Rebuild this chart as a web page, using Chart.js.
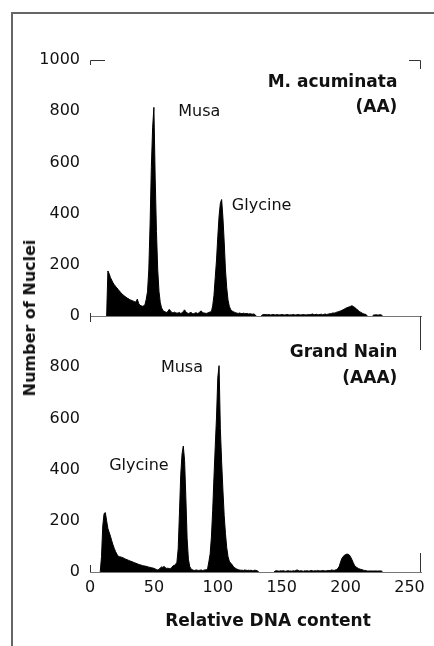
<!DOCTYPE html>
<html>
<head>
<meta charset="utf-8">
<script src="https://cdn.jsdelivr.net/npm/chart.js@4.4.1/dist/chart.umd.min.js"></script>
<style>
    body { margin: 0; background: #fff; }
    #wrap { position: relative; width: 434px; height: 646px; overflow: hidden; }
    #wrap canvas { position: absolute; left: 0; top: 0; }
    #frame { position: absolute; left: 11px; top: 12px; width: 440px; height: 660px;
             border-left: 2px solid #666; border-top: 2px solid #666; }
    .axis-title { position: absolute; font-family: 'DejaVu Sans', sans-serif; font-weight: bold;
                  color: #111; white-space: nowrap; line-height: 20px; }
    #xTitle { left: 268px; top: 610px; font-size: 17px; transform: translateX(-50%); }
    #yTitle { left: 30px; top: 318px; font-size: 16px; transform: translate(-50%, -50%) rotate(-90deg); }
</style>
</head>
<body>
<div id="wrap">
    <div id="frame"></div>
    <canvas id="topChart" width="434" height="646"></canvas>
    <canvas id="bottomChart" width="434" height="646"></canvas>
    <div class="axis-title" id="xTitle">Relative DNA content</div>
    <div class="axis-title" id="yTitle">Number of Nuclei</div>
</div>

<script>
// Flow cytometry histograms, one count per channel starting at channel 0
const musaAA = [
    0, 0, 0, 0, 0, 0, 0, 0, 0, 0,
    0, 0, 0, 0, 176, 165, 150, 140, 130, 122,
    116, 110, 104, 98, 92, 86, 82, 78, 74, 70,
    68, 64, 62, 60, 58, 56, 54, 66, 50, 42,
    40, 38, 40, 44, 65, 95, 180, 355, 580, 735,
    815, 540, 330, 180, 95, 52, 32, 22, 18, 16,
    14, 18, 26, 20, 14, 12, 15, 13, 11, 12,
    14, 10, 12, 18, 24, 16, 12, 10, 12, 14,
    10, 9, 11, 13, 10, 12, 16, 20, 14, 12,
    11, 10, 12, 14, 16, 17, 40, 80, 150, 219,
    310, 390, 440, 455, 385, 290, 180, 110, 62, 38,
    26, 20, 17, 15, 13, 11, 10, 12, 10, 9,
    11, 10, 9, 10, 8, 9, 8, 7, 8, 6,
    0, 0, 0, 0, 0, 5, 6, 5, 6, 5,
    6, 4, 5, 6, 5, 4, 6, 5, 4, 5,
    6, 5, 4, 5, 6, 5, 4, 5, 4, 6,
    5, 4, 5, 6, 5, 4, 5, 6, 5, 4,
    5, 6, 5, 6, 8, 6, 5, 7, 6, 5,
    6, 7, 5, 6, 8, 6, 7, 8, 9, 10,
    12, 11, 13, 15, 16, 18, 20, 22, 24, 27,
    30, 32, 34, 36, 38, 40, 37, 34, 30, 25,
    21, 17, 14, 11, 9, 7, 6, 0, 0, 0,
    0, 0, 4, 4, 5, 4, 4, 5, 4, 0
];

const grandNainAAA = [
    0, 0, 0, 0, 0, 0, 0, 0, 0, 60,
    180, 228, 232, 200, 170, 155, 140, 122, 106, 92,
    80, 70, 62, 60, 59, 57, 55, 53, 50, 48,
    46, 44, 42, 40, 38, 36, 34, 32, 30, 28,
    27, 25, 24, 23, 22, 21, 19, 18, 17, 16,
    14, 12, 10, 8, 10, 16, 20, 18, 22, 17,
    14, 15, 13, 14, 18, 24, 26, 30, 38, 90,
    230, 380, 460, 492, 436, 290, 130, 50, 22, 12,
    9, 7, 6, 8, 7, 6, 7, 8, 6, 7,
    8, 9, 12, 40, 70, 137, 240, 370, 490, 605,
    760, 806, 560, 430, 320, 220, 150, 95, 60, 42,
    35, 30, 22, 18, 14, 11, 9, 8, 7, 7,
    6, 8, 7, 6, 7, 6, 7, 5, 6, 7,
    6, 5, 0, 0, 0, 0, 0, 0, 0, 0,
    0, 0, 0, 0, 0, 4, 5, 4, 3, 5,
    4, 5, 4, 3, 4, 5, 4, 4, 3, 5,
    4, 6, 8, 6, 4, 5, 4, 3, 5, 4,
    5, 4, 4, 6, 5, 4, 5, 4, 6, 5,
    4, 5, 6, 5, 4, 5, 6, 5, 6, 8,
    7, 6, 8, 10, 14, 22, 38, 52, 60, 65,
    68, 70, 69, 66, 58, 48, 36, 26, 20, 17,
    14, 12, 10, 9, 7, 6, 5, 4, 4, 4,
    4, 4, 4, 4, 4, 4, 4, 4, 4, 0
];

const xTicks = [0, 50, 100, 150, 200, 250];
const yTicksTop = [0, 200, 400, 600, 800, 1000];
const yTicksBottom = [0, 200, 400, 600, 800];
const xMax = 259;
const yMax = 1000;

const FONT = "'DejaVu Sans', sans-serif";
Chart.defaults.font.family = FONT;
Chart.defaults.color = '#111';

// text labels placed in data units
const notesTop = [
    { text: 'Musa', x: 69, y: 797, align: 'left', font: '16px ' + FONT },
    { text: 'Glycine', x: 111, y: 430, align: 'left', font: '16px ' + FONT },
    { text: 'M. acuminata', x: 240.5, y: 912, align: 'right', font: 'bold 17px ' + FONT },
    { text: '(AA)', x: 240.5, y: 814, align: 'right', font: 'bold 17px ' + FONT }
];
const notesBottom = [
    { text: 'Musa', x: 55.5, y: 799, align: 'left', font: '16px ' + FONT },
    { text: 'Glycine', x: 15, y: 416, align: 'left', font: '16px ' + FONT },
    { text: 'Grand Nain', x: 240.5, y: 857, align: 'right', font: 'bold 17px ' + FONT },
    { text: '(AAA)', x: 240.5, y: 756, align: 'right', font: 'bold 17px ' + FONT }
];

const notesPlugin = {
    id: 'notes',
    afterDatasetsDraw(chart, args, opts) {
        const ctx = chart.ctx;
        const x = chart.scales.x, y = chart.scales.y;
        ctx.save();
        ctx.fillStyle = '#111';
        ctx.textBaseline = 'middle';
        opts.items.forEach(n => {
            ctx.font = n.font;
            ctx.textAlign = n.align;
            ctx.fillText(n.text, x.getPixelForValue(n.x), y.getPixelForValue(n.y));
        });
        ctx.restore();
    }
};

// bits of the scanned axis frame
function topFrame(chart) {
    const ctx = chart.ctx, a = chart.chartArea;
    ctx.save();
    ctx.strokeStyle = '#333';
    ctx.lineWidth = 1;
    ctx.beginPath();
    ctx.moveTo(a.left + 0.5, a.top + 5);
    ctx.lineTo(a.left + 0.5, a.top + 0.5);
    ctx.lineTo(a.left + 15, a.top + 0.5);
    ctx.moveTo(a.right - 12, a.top + 0.5);
    ctx.lineTo(a.right - 0.5, a.top + 0.5);
    ctx.lineTo(a.right - 0.5, a.top + 9);
    ctx.moveTo(a.left + 0.5, a.bottom - 3);
    ctx.lineTo(a.left + 0.5, a.bottom + 6);
    ctx.stroke();
    ctx.restore();
}

function bottomFrame(chart) {
    const ctx = chart.ctx, a = chart.chartArea;
    ctx.save();
    ctx.strokeStyle = '#333';
    ctx.lineWidth = 1;
    ctx.beginPath();
    ctx.moveTo(a.right - 0.5, a.top);
    ctx.lineTo(a.right - 0.5, a.top + 34);
    ctx.moveTo(a.right - 0.5, a.bottom - 19);
    ctx.lineTo(a.right - 0.5, a.bottom);
    ctx.moveTo(a.left + 0.5, a.bottom - 7);
    ctx.lineTo(a.left + 0.5, a.bottom);
    ctx.stroke();
    ctx.restore();
}

function makeHistogram(id, counts, opts) {
    const points = counts.map((c, i) => ({ x: i, y: c }));
    return new Chart(document.getElementById(id), {
        type: 'line',
        data: {
            datasets: [{
                data: points,
                borderColor: '#000',
                backgroundColor: '#000',
                borderWidth: 1,
                pointRadius: 0,
                fill: 'origin',
                tension: 0,
                segment: {
                    // no line where the histogram sits on zero
                    borderColor: c => (c.p0.parsed.y === 0 && c.p1.parsed.y === 0) ? 'rgba(0,0,0,0)' : '#000'
                }
            }]
        },
        options: {
            responsive: false,
            animation: false,
            layout: { padding: opts.padding },
            plugins: {
                legend: { display: false },
                tooltip: { enabled: false },
                notes: { items: opts.notes }
            },
            scales: {
                x: {
                    type: 'linear',
                    min: 0,
                    max: xMax,
                    grid: { display: false, drawTicks: false },
                    border: { display: true, color: '#777', width: 1 },
                    ticks: { display: opts.showX, padding: 6, font: { size: 16 }, color: '#111',
                             callback: v => String(v) },
                    afterBuildTicks: s => { s.ticks = xTicks.map(v => ({ value: v })); },
                    afterFit: s => { s.height = opts.xHeight; }
                },
                y: {
                    min: 0,
                    max: yMax,
                    grid: { display: false, drawTicks: false },
                    border: { display: false },
                    ticks: { padding: 10, font: { size: 16 }, color: '#111',
                             callback: v => String(v) },
                    afterBuildTicks: s => { s.ticks = opts.yTicks.map(v => ({ value: v })); },
                    afterFit: s => { s.width = 90; }
                }
            }
        },
        plugins: [notesPlugin, { id: 'frame', afterDraw: opts.frame }]
    });
}

makeHistogram('topChart', musaAA, {
    padding: { top: 60, right: 13, bottom: 330, left: 0 },
    showX: false,
    xHeight: 0,
    yTicks: yTicksTop,
    notes: notesTop,
    frame: topFrame
});

makeHistogram('bottomChart', grandNainAAA, {
    padding: { top: 316, right: 13, bottom: 0, left: 0 },
    showX: true,
    xHeight: 74,
    yTicks: yTicksBottom,
    notes: notesBottom,
    frame: bottomFrame
});
</script>
</body>
</html>
